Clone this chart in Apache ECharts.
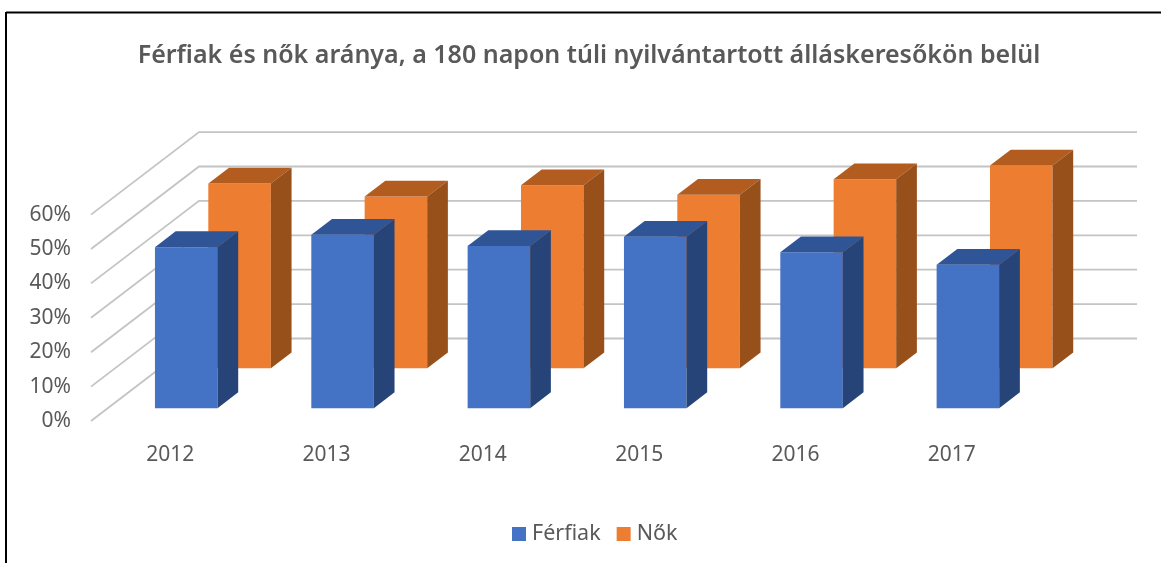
<!DOCTYPE html>
<html>
<head>
<meta charset="utf-8">
<title>Férfiak és nők aránya</title>
<script src="https://cdn.jsdelivr.net/npm/echarts@6/dist/echarts.min.js"></script>
<style>
  html, body { margin: 0; padding: 0; background: #fff; }
  #chart { width: 1161px; height: 563px; }
</style>
</head>
<body>
<div id="chart"></div>
<script>
const years = ['2012', '2013', '2014', '2015', '2016', '2017'];
const ferfiak = [46.8, 50.4, 47.1, 49.8, 45.3, 41.7];
const nok = [53.7, 49.9, 53.2, 50.4, 54.9, 58.9];
const ticks = [0, 10, 20, 30, 40, 50, 60];

// the fake 3d: how far the floor runs back, in px
const depthX = 108;
const depthY = 82.5;
const textColor = '#595959';

function renderWall(params, api) {
  const rect = params.coordSys;
  const p = api.coord([0, api.value(1)]);
  const left = rect.x;
  const right = rect.x + rect.width;
  return {
    type: 'polyline',
    silent: true,
    shape: { points: [[left, p[1]], [left + depthX, p[1] - depthY], [right + depthX, p[1] - depthY]] },
    style: { stroke: '#c4c4c4', lineWidth: 1.8, fill: null }
  };
}

// one box: front face, top, right side
function barRenderer(rowX, rowY, colors) {
  return function (params, api) {
    const top = api.coord([api.value(0), api.value(1)]);
    const base = api.coord([api.value(0), 0]);
    const w = api.size([1, 0])[0] * 0.4;
    const x0 = top[0] - w / 2 + depthX * rowX;
    const x1 = x0 + w;
    const yTop = top[1] - depthY * rowY;
    const yBase = base[1] - depthY * rowY;
    const dx = 20.7;
    const dy = 15.8;
    return {
      type: 'group',
      children: [
        {
          type: 'rect',
          shape: { x: x0, y: yTop, width: w, height: yBase - yTop },
          style: { fill: colors[0] }
        },
        {
          type: 'polygon',
          shape: { points: [[x0, yTop], [x1, yTop], [x1 + dx, yTop - dy], [x0 + dx, yTop - dy]] },
          style: { fill: colors[1] }
        },
        {
          type: 'polygon',
          shape: { points: [[x1, yTop], [x1 + dx, yTop - dy], [x1 + dx, yBase - dy], [x1, yBase]] },
          style: { fill: colors[2] }
        }
      ]
    };
  };
}

const chart = echarts.init(document.getElementById('chart'));
chart.setOption({
  animation: false,
  backgroundColor: '#fff',
  title: {
    text: 'Férfiak és nők aránya, a 180 napon túli nyilvántartott álláskeresőkön belül',
    left: 584,
    top: 38,
    textAlign: 'center',
    textStyle: { color: textColor, fontFamily: 'Noto Sans', fontSize: 25, fontWeight: 600 }
  },
  legend: {
    data: ['Férfiak', 'Nők'],
    left: 507,
    top: 518,
    icon: 'rect',
    itemWidth: 14,
    itemHeight: 14,
    itemGap: 16,
    selectedMode: false,
    textStyle: { color: textColor, fontFamily: 'Noto Sans', fontSize: 21.5, padding: [0, 0, 0, 1] }
  },
  grid: { left: 91, top: 214.6, width: 938, height: 206.4 },
  xAxis: {
    type: 'category',
    data: years,
    axisLine: { show: false },
    axisTick: { show: false },
    axisLabel: { color: textColor, fontFamily: 'Noto Sans', fontSize: 21, margin: 24, padding: [0, 0, 0, 2] }
  },
  yAxis: {
    type: 'value',
    min: 0,
    max: 60,
    interval: 10,
    axisLine: { show: false },
    axisTick: { show: false },
    splitLine: { show: false },
    axisLabel: { color: textColor, fontFamily: 'Noto Sans', fontSize: 21, margin: 20, padding: [9, 0, 0, 0], formatter: '{value}%' }
  },
  graphic: [
    { type: 'line', shape: { x1: 6, y1: 12.5, x2: 1161, y2: 12.5 }, style: { stroke: '#000', lineWidth: 2 } },
    { type: 'line', shape: { x1: 6, y1: 12, x2: 6, y2: 563 }, style: { stroke: '#000', lineWidth: 2 } }
  ],
  series: [
    {
      name: 'wall',
      type: 'custom',
      clip: false,
      renderItem: renderWall,
      encode: { x: 0, y: 1 },
      data: ticks.map(function (t) { return [0, t]; })
    },
    {
      name: 'Nők',
      type: 'custom',
      clip: false,
      itemStyle: { color: '#ED7D31' },
      renderItem: barRenderer(0.652, 0.64, ['#ED7D31', '#B25C1F', '#97501A']),
      encode: { x: 0, y: 1 },
      data: nok.map(function (v, i) { return [i, v]; })
    },
    {
      name: 'Férfiak',
      type: 'custom',
      clip: false,
      itemStyle: { color: '#4472C4' },
      renderItem: barRenderer(0.158, 0.156, ['#4472C4', '#2F5597', '#264478']),
      encode: { x: 0, y: 1 },
      data: ferfiak.map(function (v, i) { return [i, v]; })
    }
  ]
});
</script>
</body>
</html>
